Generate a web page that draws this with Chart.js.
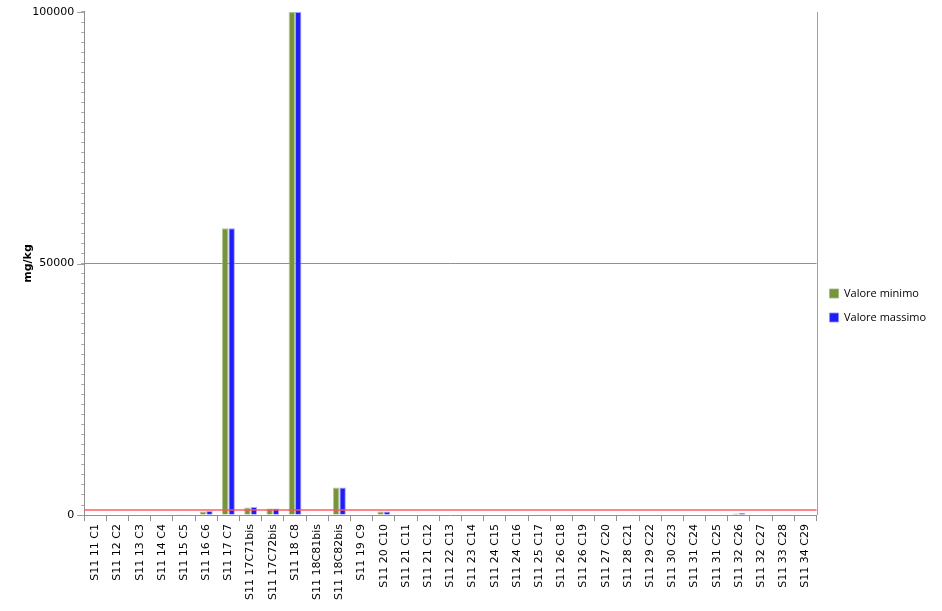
<!DOCTYPE html>
<html>
<head>
<meta charset="utf-8">
<script src="https://cdn.jsdelivr.net/npm/chart.js@4/dist/chart.umd.min.js"></script>
<style>
  html, body { margin: 0; padding: 0; background: #fff; }
  #wrap { width: 942px; height: 611px; }
</style>
</head>
<body>
<div id="wrap"><canvas id="chart" width="942" height="611"></canvas></div>
<script>
const samples = [
  "S11 11 C1", "S11 12 C2", "S11 13 C3", "S11 14 C4", "S11 15 C5", "S11 16 C6",
  "S11 17 C7", "S11 17C71bis", "S11 17C72bis", "S11 18 C8", "S11 18C81bis",
  "S11 18C82bis", "S11 19 C9", "S11 20 C10", "S11 21 C11", "S11 21 C12",
  "S11 22 C13", "S11 23 C14", "S11 24 C15", "S11 24 C16", "S11 25 C17",
  "S11 26 C18", "S11 26 C19", "S11 27 C20", "S11 28 C21", "S11 29 C22",
  "S11 30 C23", "S11 31 C24", "S11 31 C25", "S11 32 C26", "S11 32 C27",
  "S11 33 C28", "S11 34 C29"
];
const valoreMinimo = [
  0, 0, 0, 0, 60, 700,
  57000, 1500, 1300, 100000, 0,
  5500, 0, 700, 0, 100,
  0, 0, 0, 0, 100,
  0, 0, 0, 0, 0,
  0, 0, 0, 300, 0,
  100, 0
];
const valoreMassimo = [
  0, 0, 0, 0, 150, 800,
  57000, 1600, 1300, 100000, 0,
  5500, 0, 700, 0, 150,
  0, 0, 0, 0, 150,
  0, 0, 0, 0, 0,
  0, 0, 0, 400, 0,
  150, 0
];
const majorTicks = [0, 50000, 100000];
const limitValue = 1000; // red limit line

// frame on the right, red limit line, longer marks on the major y ticks
const extras = {
  id: "extras",
  afterDatasetsDraw(c) {
    const { ctx, chartArea: a, scales } = c;
    ctx.save();
    ctx.strokeStyle = "#a0a0a0";
    ctx.lineWidth = 1;
    ctx.beginPath();
    ctx.moveTo(Math.round(a.right) + 0.5, a.top);
    ctx.lineTo(Math.round(a.right) + 0.5, a.bottom);
    majorTicks.forEach((v) => {
      const yy = Math.round(scales.y.getPixelForValue(v)) + 0.5;
      ctx.moveTo(a.left - 7, yy);
      ctx.lineTo(a.left, yy);
    });
    ctx.stroke();
    const y = scales.y.getPixelForValue(limitValue);
    ctx.strokeStyle = "rgba(255,80,90,0.7)";
    ctx.lineWidth = 2;
    ctx.beginPath();
    ctx.moveTo(a.left, y);
    ctx.lineTo(a.right, y);
    ctx.stroke();
    ctx.restore();
  }
};

new Chart(document.getElementById("chart"), {
  type: "bar",
  data: {
    labels: samples,
    datasets: [
      {
        label: "Valore minimo",
        data: valoreMinimo,
        backgroundColor: "#77933c",
        borderColor: "rgba(160,185,120,0.8)",
        borderWidth: 1,
        categoryPercentage: 0.58,
        barPercentage: 1
      },
      {
        label: "Valore massimo",
        data: valoreMassimo,
        backgroundColor: "#1e1ef8",
        borderColor: "rgba(140,140,255,0.8)",
        borderWidth: 1,
        categoryPercentage: 0.58,
        barPercentage: 1
      }
    ]
  },
  options: {
    responsive: false,
    animation: false,
    layout: { padding: { left: 17, top: 8, right: 6, bottom: 8 } },
    plugins: {
      legend: {
        position: "right",
        labels: {
          boxWidth: 9,
          boxHeight: 9,
          padding: 13,
          color: "#000",
          font: { family: "Open Sans", size: 11 }
        }
      },
      tooltip: { enabled: false }
    },
    scales: {
      x: {
        grid: {
          drawOnChartArea: false,
          color: "#909090",
          tickLength: 6
        },
        border: { color: "#909090" },
        ticks: {
          autoSkip: false,
          maxRotation: 90,
          minRotation: 90,
          color: "#000",
          font: { family: "DejaVu Sans", size: 11 }
        }
      },
      y: {
        min: 0,
        max: 100000,
        afterBuildTicks(axis) {
          const t = [];
          for (let v = 0; v <= 100000; v += 2000) t.push({ value: v });
          axis.ticks = t;
        },
        grid: {
          color: (c) => (c.tick && c.tick.value === 50000 ? "#909090" : "rgba(0,0,0,0)"),
          tickColor: "#a8a8a8",
          tickLength: 3
        },
        border: { color: "#909090" },
        ticks: {
          autoSkip: false,
          color: "#000",
          padding: 7,
          font: { family: "DejaVu Sans", size: 11, lineHeight: 0.9 },
          callback: (v) => (majorTicks.includes(v) ? String(v) : "")
        },
        title: {
          display: true,
          text: "mg/kg",
          color: "#000",
          font: { family: "DejaVu Sans", size: 11, weight: "bold" },
          padding: { top: 5, bottom: -10 }
        }
      }
    }
  },
  plugins: [extras]
});
</script>
</body>
</html>
